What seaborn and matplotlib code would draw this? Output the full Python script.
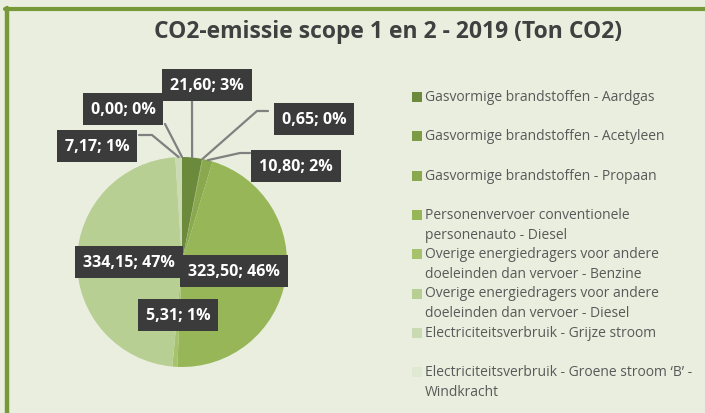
import numpy as np
import matplotlib.pyplot as plt
import seaborn as sns
from matplotlib.patches import Rectangle

# Data: CO2 emissions scope 1 and 2 - 2019 (ton CO2)
categories = [
    "Gasvormige brandstoffen - Aardgas",
    "Gasvormige brandstoffen - Acetyleen",
    "Gasvormige brandstoffen - Propaan",
    "Personenvervoer conventionele\npersonenauto - Diesel",
    "Overige energiedragers voor andere\ndoeleinden dan vervoer - Benzine",
    "Overige energiedragers voor andere\ndoeleinden dan vervoer - Diesel",
    "Electriciteitsverbruik - Grijze stroom",
    "Electriciteitsverbruik - Groene stroom \u2018B\u2019 -\nWindkracht",
]
values = [21.60, 0.65, 10.80, 323.50, 5.31, 334.15, 7.17, 0.00]
percents = [3, 0, 2, 46, 1, 47, 1, 0]  # as shown on the chart
colors = ["#6c8a3b", "#7d9b45", "#8aa94f", "#97b658", "#a6c26c",
          "#b8cf94", "#cadab2", "#dfe8d2"]

sns.set_theme(style="white")
plt.rcParams["font.family"] = ["Open Sans", "DejaVu Sans"]

W, H = 705, 414
bg = "#eaeedf"
fig = plt.figure(figsize=(W / 100, H / 100), dpi=100, facecolor=bg)

# green frame (top and left)
fig.add_artist(plt.Line2D([6.5 / W, 6.5 / W], [0, 1 - 9 / H], color="#77993a", lw=3.2,
                          transform=fig.transFigure))
fig.add_artist(plt.Line2D([5 / W, 1], [1 - 9.5 / H, 1 - 9.5 / H], color="#77993a", lw=3,
                          transform=fig.transFigure))

fig.text(388 / W, 1 - 32 / H, "CO2-emissie scope 1 en 2 - 2019 (Ton CO2)",
         ha="center", va="center", fontsize=16.5, fontweight="bold", color="#404040")

# pie axes: centre (182, 263) px, radius 105 px
cx, cy, R = 182, 263, 105
ax = fig.add_axes([(cx - R) / W, (H - cy - R) / H, 2 * R / W, 2 * R / H])
ax.set_facecolor("none")
wedges, _ = ax.pie(values, colors=colors, startangle=90, counterclock=False,
                   radius=1, wedgeprops=dict(linewidth=0))
ax.set_xlim(-1, 1)
ax.set_ylim(-1, 1)
ax.set_aspect("equal")
ax.axis("off")


def d(px, py):
    return ((px - cx) / R, (cy - py) / R)


labels = [f"{v:.2f}".replace(".", ",") + f"; {p}%" for v, p in zip(values, percents)]

# label layout: text centre (px), leader elbow/end points (px) or None
label_pos = [(207, 86), (314, 120), (296, 167), (234, 272),
             (178, 316), (129, 263), (97, 147), (123, 110)]
leaders = [
    [(192, 101)],
    [(257, 112), (268, 112)],
    [(240, 154), (250, 154)],
    None,
    None,
    None,
    [(152, 136), (139, 136)],
    [(165, 125)],
]

for i, w in enumerate(wedges):
    mid = np.deg2rad((w.theta1 + w.theta2) / 2)
    if leaders[i]:
        pts = [(np.cos(mid), np.sin(mid))] + [d(*p) for p in leaders[i]]
        xs, ys = zip(*pts)
        ax.plot(xs, ys, color="#808080", lw=1.6, clip_on=False, zorder=3)
    tx, ty = d(*label_pos[i])
    ax.text(tx, ty, labels[i], ha="center", va="center", fontsize=11.5, fontweight="bold",
            color="white", zorder=5, clip_on=False,
            bbox=dict(boxstyle="square,pad=0.5", fc="#3b3b3b", ec="none"))

# legend
y0, pitch = 98, 39.3
for i, (lab, col) in enumerate(zip(categories, colors)):
    y = y0 + i * pitch
    fig.add_artist(Rectangle((412 / W, 1 - (y + 5) / H), 10 / W, 10 / H,
                             transform=fig.transFigure, fc=col, ec="none"))
    fig.text(425 / W, 1 - (y - 8) / H, lab, ha="left", va="top", fontsize=10,
             color="#595959", linespacing=1.42)

fig.savefig("out.png", dpi=100, facecolor=bg)
